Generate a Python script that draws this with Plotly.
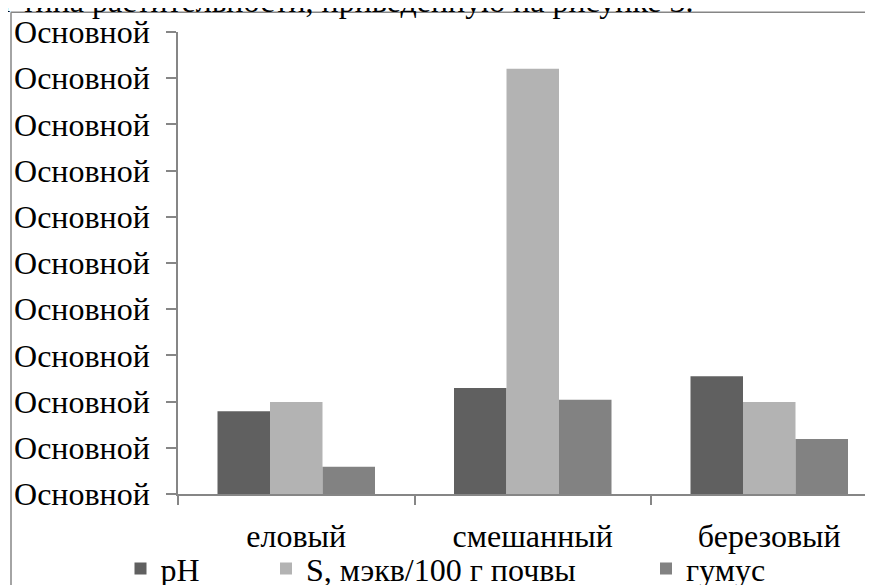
import plotly.graph_objects as go

categories = ["еловый", "смешанный", "березовый"]
ph_values = [3.58, 4.59, 5.10]
s_values = [3.98, 18.41, 3.98]
humus_values = [1.18, 4.08, 2.38]
series_names = ["pH", "S, мэкв/100 г почвы", "гумус"]
series_colors = ["#606060", "#b3b3b3", "#828282"]
y_tick_values = [0, 2, 4, 6, 8, 10, 12, 14, 16, 18, 20]
y_tick_labels = ["Основной"] * len(y_tick_values)
caption = "от типа растительности, приведенную на рисунке 3."

FONT = "Liberation Serif, Times New Roman, serif"
FS = 32
GRAY = "#868686"

# the page body has an 8px margin; figure is sized to the visible area
OFF = 8
W, H = 873 - OFF, 585 - OFF
PLOT_L, PLOT_T, PLOT_B = 178, 32.3, 494.3          # page pixels
ML = PLOT_L - OFF
MT = PLOT_T - OFF
MB = H - (PLOT_B - OFF)
MR = 0
PW, PH = W - ML - MR, H - MT - MB
CAT_W = 236.5


def px_x(px):
    return (px - OFF - ML) / PW


def px_y(py):
    return (H - MB - (py - OFF)) / PH


fig = go.Figure()
legends = ["legend2", "legend3", "legend4"]
for name, vals, col, lg in zip(series_names, [ph_values, s_values, humus_values], series_colors, legends):
    fig.add_trace(go.Bar(x=categories, y=vals, name=name, marker=dict(color=col, line=dict(width=0)),
                         legend=lg))

leg_common = dict(orientation="h", xanchor="left", yanchor="middle",
                  font=dict(family=FONT, size=FS, color="black"), bgcolor="rgba(0,0,0,0)",
                  itemwidth=30)
leg_y = px_y(569)

fig.update_layout(
    width=W, height=H, autosize=False,
    margin=dict(l=ML, r=MR, t=MT, b=MB, pad=0, autoexpand=False),
    paper_bgcolor="white", plot_bgcolor="white",
    barmode="group", bargap=0.334, bargroupgap=0,
    font=dict(family=FONT, size=FS, color="black"),
    showlegend=True,
    legend2=dict(x=px_x(120.5), y=leg_y, **leg_common),
    legend3=dict(x=px_x(266), y=leg_y, **leg_common),
    legend4=dict(x=px_x(646), y=leg_y, **leg_common),
    xaxis=dict(type="category", range=[-0.5, -0.5 + PW / CAT_W], tickson="boundaries",
               ticks="outside", ticklen=9, tickwidth=1.5, tickcolor=GRAY,
               showline=True, linecolor=GRAY, linewidth=1.5, showgrid=False, zeroline=False,
               tickfont=dict(family=FONT, size=FS, color="black"), ticklabelstandoff=13),
    yaxis=dict(range=[0, 20], tickmode="array", tickvals=y_tick_values, ticktext=y_tick_labels,
               ticks="outside", ticklen=10, tickwidth=1.5, tickcolor=GRAY,
               showline=True, linecolor=GRAY, linewidth=1.5, showgrid=False, zeroline=False,
               tickfont=dict(family=FONT, size=FS, color="black"), ticklabelstandoff=10),
    shapes=[
        dict(type="line", xref="paper", yref="paper", x0=px_x(11), x1=px_x(11), y0=px_y(600), y1=px_y(12.5),
             line=dict(color=GRAY, width=1.5)),
        dict(type="line", xref="paper", yref="paper", x0=px_x(11), x1=px_x(900), y0=px_y(12.5), y1=px_y(12.5),
             line=dict(color=GRAY, width=1.5)),
    ],
    annotations=[
        dict(text=caption, xref="paper", yref="paper", x=px_x(695), y=px_y(21), xanchor="right", yanchor="bottom",
             showarrow=False, font=dict(family=FONT, size=FS, color="black")),
    ],
)

fig.write_html("out.html")
